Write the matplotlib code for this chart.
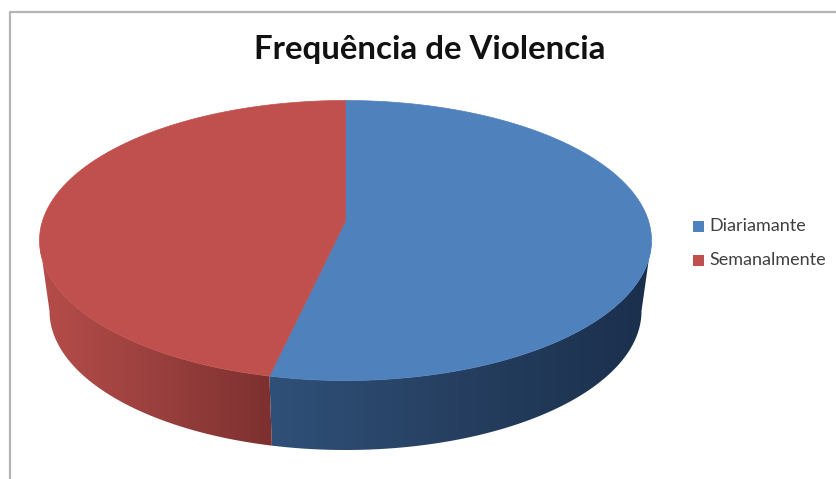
"""Frequencia de Violencia: 3D-look pie drawn on a pixel-sized axes."""

from __future__ import annotations

import matplotlib

matplotlib.use("Agg")

import matplotlib.pyplot as plt
import numpy as np
from matplotlib.colors import LinearSegmentedColormap
from matplotlib.patches import Polygon, Rectangle


TITLE = "Frequência de Violencia"
LABELS = ["Diariamante", "Semanalmente"]
VALUES = [54, 46]
TOP_COLORS = ["#4f81bd", "#c0504d"]
WALL_COLORS = [
    ["#2f5078", "#263f60", "#1a2f4c"],
    ["#b54d4a", "#9a403e", "#7c302f"],
]

# Top face and base of the drum, in pixels
CX, CY, RX, RY = 345.5, 240.5, 306.0, 140.0
BASE_CX, BASE_CY, BASE_RX, BASE_RY = 345.5, 311.0, 296.0, 139.0
APEX_Y = 221.0


def rim(theta: np.ndarray, cx: float, cy: float, rx: float, ry: float) -> np.ndarray:
    # theta runs clockwise from 12 o'clock
    return np.column_stack([cx + rx * np.sin(theta), cy - ry * np.cos(theta)])


def draw_wall(ax: plt.Axes, start: float, end: float, colors: list[str]) -> None:
    # only the front half of the drum shows
    lo = max(start, np.pi / 2)
    hi = min(end, 3 * np.pi / 2)
    if hi <= lo:
        return
    theta = np.linspace(lo, hi, 200)
    top = rim(theta, CX, CY, RX, RY)
    base = rim(theta, BASE_CX, BASE_CY, BASE_RX, BASE_RY)
    outline = np.vstack([top, base[::-1]])
    patch = Polygon(outline, closed=True, facecolor="none", edgecolor="none")
    ax.add_patch(patch)

    left, right = outline[:, 0].min(), outline[:, 0].max()
    cmap = LinearSegmentedColormap.from_list("wall", colors)
    img = ax.imshow(
        np.linspace(0, 1, 256)[None, :],
        cmap=cmap,
        extent=(left, right, outline[:, 1].max(), outline[:, 1].min()),
        aspect="auto",
        zorder=2,
    )
    img.set_clip_path(patch)


def main() -> None:
    fig = plt.figure(figsize=(8.36, 4.79), dpi=100, facecolor="white")
    ax = fig.add_axes([0, 0, 1, 1])

    total = sum(VALUES)
    edges = 2 * np.pi * np.cumsum([0] + VALUES) / total

    for i, wall in enumerate(WALL_COLORS):
        draw_wall(ax, edges[i], edges[i + 1], wall)

    for i, color in enumerate(TOP_COLORS):
        theta = np.linspace(edges[i], edges[i + 1], 300)
        arc = rim(theta, CX, CY, RX, RY)
        face = np.vstack([[CX, APEX_Y], arc])
        ax.add_patch(Polygon(face, closed=True, facecolor=color, edgecolor=color, lw=0.5, zorder=3))

    # chart frame: only the left and top edges are in the crop
    ax.plot([9.5, 9.5, 836], [479, 11.5, 11.5], color="#b5b5b5", lw=1.6, zorder=1)

    ax.text(430, 49, TITLE, ha="center", va="center", fontsize=23.8, fontweight="bold",
            family="Lato", color="#111111", zorder=5)

    for label, color, y in zip(LABELS, TOP_COLORS, [226, 260]):
        ax.add_patch(Rectangle((693, y - 5.5), 11, 11, facecolor=color, edgecolor="none", zorder=5))
        ax.text(709, y, label, ha="left", va="center", fontsize=13, family="Lato",
                color="#404040", zorder=5)

    ax.set_xlim(0, 836)
    ax.set_ylim(479, 0)
    ax.axis("off")
    fig.savefig("out.png", dpi=100, facecolor="white")
    plt.close(fig)


if __name__ == "__main__":
    main()
